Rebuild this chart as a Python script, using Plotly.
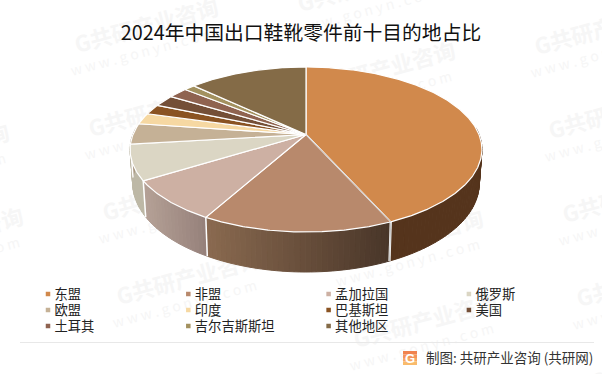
import numpy as np
import plotly.graph_objects as go

# ---- data ----
categories = ["东盟", "非盟", "孟加拉国", "俄罗斯", "欧盟", "印度", "巴基斯坦", "美国", "土耳其", "吉尔吉斯斯坦", "其他地区"]
shares = [43.3, 14.8, 8.1, 6.9, 4.1, 2.2, 2.0, 2.3, 2.1, 1.2, 13.0]
top_colors = ["#D1894C", "#B8896C", "#CDB0A3", "#DBD6C4", "#C5B196", "#F6D8A2", "#8A5322", "#744F37", "#8F6350", "#A3915F", "#846B47"]
wall_right = ["#55341C", "#483528", "#95807A", "#BDB8A6", "#A89780", "#D0B88A", "#6E421B", "#5C3F2C", "#724F40", "#82744C", "#6A5639"]
wall_left = ["#55341C", "#8A6A50", "#B5A196", "#BDB8A6", "#A89780", "#D0B88A", "#6E421B", "#5C3F2C", "#724F40", "#82744C", "#6A5639"]
title_text = "2024年中国出口鞋靴零件前十目的地占比"
source_text = "制图: 共研产业咨询 (共研网)"
watermark_main = "G共研产业咨询"
watermark_site = "w w w . g o n y n . c o m"

FONT = "Noto Sans CJK SC"
W, H = 602, 374

# ---- 3D pie projection ----
CX, CY = 306.0, 134.5
K, A, B, DEPTH, SHRINK = 0.1818, 79.8, 173.0, 32.7, 0.985


def project(theta_deg, bottom=False):
    t = np.radians(theta_deg)
    X, Y = np.sin(t), np.cos(t)
    d = 1 + K * Y
    x = CX + B * X / d
    y = CY - A * Y / d
    if bottom:
        x = CX + (x - CX) * SHRINK
        y = y + DEPTH / d
    return x, y


def hex_rgb(h):
    return np.array([int(h[i:i + 2], 16) for i in (1, 3, 5)], dtype=float)


def mix(c1, c2, f):
    c = hex_rgb(c1) * (1 - f) + hex_rgb(c2) * f
    return "rgb(%d,%d,%d)" % tuple(c.round())


bounds = np.concatenate([[0], np.cumsum(shares)]) / np.sum(shares) * 360
fig = go.Figure()

# walls (near side only)
WALL_FROM, WALL_TO = 85.0, 275.0
for i in range(len(categories)):
    a0, a1 = max(bounds[i], WALL_FROM), min(bounds[i + 1], WALL_TO)
    if a1 <= a0:
        continue
    steps = np.linspace(a0, a1, max(2, int((a1 - a0) / 1.5) + 1))
    xl, _ = project(a0)
    xr, _ = project(a1)
    xmin, xmax = min(xl, xr), max(xl, xr)
    for s0, s1 in zip(steps[:-1], steps[1:]):
        th = np.array([s0, s1])
        xt, yt = project(th)
        xb, yb = project(th, bottom=True)
        f = (xmax - xt.mean()) / max(xmax - xmin, 1)
        col = mix(wall_right[i], wall_left[i], float(np.clip(f, 0, 1)))
        fig.add_trace(go.Scatter(x=list(xt) + list(xb[::-1]) + [xt[0]], y=list(yt) + list(yb[::-1]) + [yt[0]],
                                 mode="lines", fill="toself", fillcolor=col, line=dict(color=col, width=1.0),
                                 hoverinfo="skip", showlegend=False))

# white seams between the walls
for i in range(len(categories)):
    if WALL_FROM < bounds[i + 1] < WALL_TO:
        xt, yt = project(bounds[i + 1])
        xb, yb = project(bounds[i + 1], bottom=True)
        fig.add_trace(go.Scatter(x=[xt, xb], y=[yt, yb], mode="lines", line=dict(color="white", width=2.2 if i == 0 else 1.5),
                                 hoverinfo="skip", showlegend=False))
        if i == 0:
            fig.add_trace(go.Scatter(x=[xt, xb], y=[yt, yb], mode="lines", line=dict(color="#a0a0a0", width=0.6),
                                     hoverinfo="skip", showlegend=False))

# top face
for i, name in enumerate(categories):
    th = np.linspace(bounds[i], bounds[i + 1], max(3, int(bounds[i + 1] - bounds[i]) * 2))
    xr, yr = project(th)
    fig.add_trace(go.Scatter(x=[CX] + list(xr) + [CX], y=[CY] + list(yr) + [CY], mode="lines", fill="toself",
                             fillcolor=top_colors[i], line=dict(color="white", width=1.2), name=name,
                             hovertemplate=name + ": %{text}%<extra></extra>", text=[shares[i]] * (len(th) + 2),
                             showlegend=False))
xe, ye = project(bounds[1])
fig.add_trace(go.Scatter(x=[CX, xe], y=[CY, ye], mode="lines", line=dict(color="#a8a8a8", width=0.6),
                         hoverinfo="skip", showlegend=False))

# legend
COLS, LEG_X0, LEG_DX, LEG_Y0, LEG_DY, LEG_GAP = 4, 48.0, 140.3, 294.0, 16.0, 6.5
lx = [LEG_X0 + LEG_DX * (i % COLS) for i in range(len(categories))]
ly = [LEG_Y0 + LEG_DY * (i // COLS) for i in range(len(categories))]
fig.add_trace(go.Scatter(x=lx, y=ly, mode="markers", marker=dict(symbol="square", size=4.5, color=top_colors, line=dict(width=0)),
                         hoverinfo="skip", showlegend=False))
fig.add_trace(go.Scatter(x=[v + LEG_GAP for v in lx], y=[v + 1.5 for v in ly], mode="text", text=categories, textposition="middle right",
                         textfont=dict(family=FONT, size=13.3, color="#222222"), hoverinfo="skip", showlegend=False))

# watermark lattice, beneath every trace
shapes = []
V1, V2 = (223, -41), (237, 43)
for m in range(-3, 4):
    for n in range(-3, 6):
        ix = 75 + m * V1[0] + n * V2[0]
        iy = 47 + m * V1[1] + n * V2[1]
        if not (-170 < ix < 620 and -30 < iy < 420):
            continue
        for (dx, dy, txt, size, bold) in [(72, -19, watermark_main, 22, True), (68, 6, watermark_site, 14, False)]:
            shapes.append(dict(type="rect", xref="x", yref="y", layer="below", x0=ix + dx - 5, x1=ix + dx + 5,
                               y0=iy + dy - 5, y1=iy + dy + 5, line=dict(width=0), fillcolor="rgba(0,0,0,0)",
                               label=dict(text="<b>%s</b>" % txt if bold else txt, textangle=-15, textposition="middle center",
                                          font=dict(family=FONT, size=size, color="#f6f6f6"))))

# footer rule and logo
shapes.append(dict(type="line", xref="x", yref="y", x0=20, x1=594, y0=342.5, y1=342.5, line=dict(color="#e8e8e8", width=1)))
for k, c in enumerate(["#F0824E", "#F4935A", "#F7A763", "#F9BB6C"]):
    shapes.append(dict(type="rect", xref="x", yref="y", x0=403, x1=417, y0=351 + k * 3.5, y1=354.5 + k * 3.5,
                       line=dict(width=0), fillcolor=c))

annotations = [
    dict(x=410, y=358.4, xref="x", yref="y", text="<b>G</b>", showarrow=False, font=dict(family="Liberation Sans", size=13, color="white")),
    dict(x=424, y=356.8, xref="x", yref="y", xanchor="left", text=source_text, showarrow=False,
         font=dict(family=FONT, size=13.5, color="#333333")),
]

fig.update_layout(
    width=W, height=H, margin=dict(l=0, r=0, t=0, b=0), autosize=False,
    paper_bgcolor="white", plot_bgcolor="white",
    title=dict(text=title_text, x=0.5, xanchor="center", y=1 - 33.5 / H, yanchor="middle",
               font=dict(family=FONT, size=19.8, color="#111111")),
    xaxis=dict(range=[0, W], visible=False, fixedrange=True),
    yaxis=dict(range=[H, 0], visible=False, fixedrange=True),
    shapes=shapes, annotations=annotations, showlegend=False,
)

fig.write_html("out.html", config={"displayModeBar": False},
               post_script="document.body.style.margin='0';document.documentElement.style.overflow='hidden';")
